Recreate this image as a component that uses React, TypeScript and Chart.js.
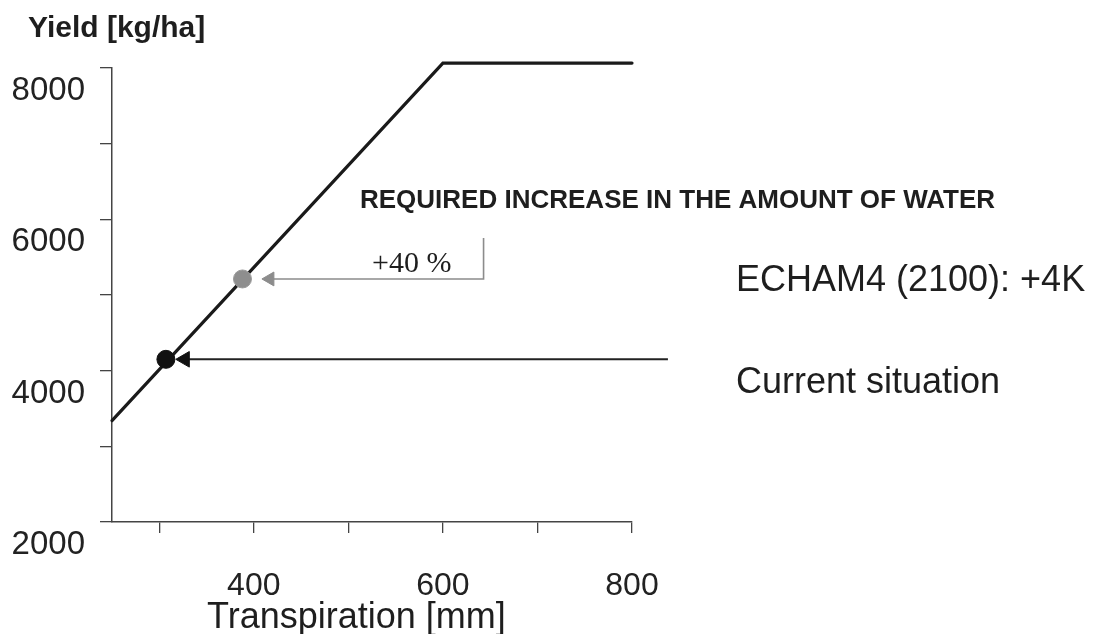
import React, { useEffect, useRef } from "react";
import { Chart, registerables } from "chart.js";

Chart.register(...registerables);

// ---- data ----
const xMin = 250;
const xMax = 800;
const yMin = 2000;
const yMax = 8000;
const xTickValues = [300, 400, 500, 600, 700, 800];
const xLabelValues = [400, 600, 800];
const yLabelValues = [2000, 4000, 6000, 8000];

// production function (yield vs transpiration)
const curveX = [250, 600, 800];
const curveY = [3340, 8065, 8065];

// current situation
const currentX = [307];
const currentY = [4150];
const currentArrowX = [327, 838];
const currentArrowY = [4150, 4150];

// ECHAM4 (2100) +4K
const futureX = [388];
const futureY = [5212];
const futureArrowX = [417, 643, 643];
const futureArrowY = [5212, 5212, 5753];

// ---- texts ----
const yTitle = "Yield [kg/ha]";
const xTitle = "Transpiration [mm]";
const headerText = "REQUIRED INCREASE IN THE AMOUNT OF WATER";
const percentText = "+40 %";
const futureLabel = "ECHAM4 (2100): +4K";
const currentLabel = "Current situation";

const SANS = "'Liberation Sans', Arial, sans-serif";
const SERIF = "'Liberation Serif', 'Times New Roman', serif";

const zip = (xs: number[], ys: number[]) => xs.map((x, i) => ({ x, y: ys[i] }));

const textPlugin = {
  id: "texts",
  afterDraw(chart: any) {
    const ctx = chart.ctx;
    ctx.save();
    ctx.fillStyle = "#1e1e1e";
    ctx.textBaseline = "alphabetic";
    ctx.textAlign = "left";
    ctx.font = `bold 30px ${SANS}`;
    ctx.fillText(yTitle, 28, 37);
    ctx.font = `36px ${SANS}`;
    ctx.fillText(xTitle, 207, 628);
    ctx.font = `bold 26px ${SANS}`;
    ctx.fillText(headerText, 360, 208);
    ctx.font = `30px ${SERIF}`;
    ctx.fillText(percentText, 372, 272);
    ctx.font = `36px ${SANS}`;
    ctx.fillText(futureLabel, 736, 291);
    ctx.fillText(currentLabel, 736, 393);
    ctx.restore();
  },
};

export default function App() {
  const ref = useRef<HTMLCanvasElement | null>(null);

  useEffect(() => {
    if (!ref.current) return;
    const chart = new Chart(ref.current, {
      type: "scatter",
      data: {
        datasets: [
          {
            label: "Current situation",
            data: zip(currentX, currentY),
            pointRadius: 9,
            pointBackgroundColor: "#111",
            pointBorderColor: "#111",
            pointBorderWidth: 1,
            showLine: false,
            clip: false,
          } as any,
          {
            label: "ECHAM4 (2100)",
            data: zip(futureX, futureY),
            pointRadius: 9,
            pointBackgroundColor: "#8e8e8e",
            pointBorderColor: "#9a9a9a",
            pointBorderWidth: 1,
            showLine: false,
            clip: false,
          } as any,
          {
            label: "current arrow",
            data: zip(currentArrowX, currentArrowY),
            showLine: true,
            borderColor: "#222",
            borderWidth: 2,
            pointStyle: "triangle",
            rotation: -90,
            pointRadius: [9, 0],
            pointBackgroundColor: "#111",
            pointBorderColor: "#111",
            pointBorderWidth: 1,
            clip: false,
          } as any,
          {
            label: "future arrow",
            data: zip(futureArrowX, futureArrowY),
            showLine: true,
            borderColor: "#8c8c8c",
            borderWidth: 1.6,
            pointStyle: "triangle",
            rotation: -90,
            pointRadius: [8, 0, 0],
            pointBackgroundColor: "#8c8c8c",
            pointBorderColor: "#8c8c8c",
            pointBorderWidth: 1,
            clip: false,
          } as any,
          {
            label: "production function",
            data: zip(curveX, curveY),
            showLine: true,
            borderColor: "#1a1a1a",
            borderWidth: 3.2,
            borderCapStyle: "round",
            borderJoinStyle: "miter",
            pointRadius: 0,
            clip: false,
          } as any,
        ],
      },
      options: {
        animation: false,
        responsive: false,
        events: [],
        layout: { padding: { left: 0, right: 469, top: 68, bottom: 0 } },
        plugins: { legend: { display: false }, tooltip: { enabled: false } },
        elements: { line: { tension: 0 } },
        scales: {
          x: {
            type: "linear",
            min: xMin,
            max: xMax,
            afterFit: (s: any) => {
              s.height = 112;
            },
            afterBuildTicks: (s: any) => {
              s.ticks = xTickValues.map((value) => ({ value }));
            },
            ticks: {
              stepSize: 100,
              autoSkip: false,
              maxRotation: 0,
              padding: 34,
              color: "#222",
              font: { family: SANS, size: 32 },
              callback: (v: any) => (xLabelValues.includes(Number(v)) ? String(v) : ""),
            },
            grid: { drawOnChartArea: false, drawTicks: true, tickLength: 11, color: "#444", lineWidth: 1.3 },
            border: { display: true, color: "#444", width: 1.5 },
          },
          y: {
            type: "linear",
            min: yMin,
            max: yMax,
            afterFit: (s: any) => {
              s.width = 112;
            },
            ticks: {
              stepSize: 1000,
              autoSkip: false,
              padding: 15,
              labelOffset: 23,
              color: "#222",
              font: { family: SANS, size: 33 },
              callback: (v: any) => (yLabelValues.includes(Number(v)) ? String(v) : ""),
            },
            grid: { drawOnChartArea: false, drawTicks: true, tickLength: 12, color: "#444", lineWidth: 1.3 },
            border: { display: true, color: "#444", width: 1.5 },
          },
        },
      } as any,
      plugins: [textPlugin],
    });
    return () => chart.destroy();
  }, []);

  return (
    <div style={{ position: "fixed", left: 0, top: 0, width: 1101, height: 634, background: "#fff" }}>
      <canvas ref={ref} width={1101} height={634} />
    </div>
  );
}
